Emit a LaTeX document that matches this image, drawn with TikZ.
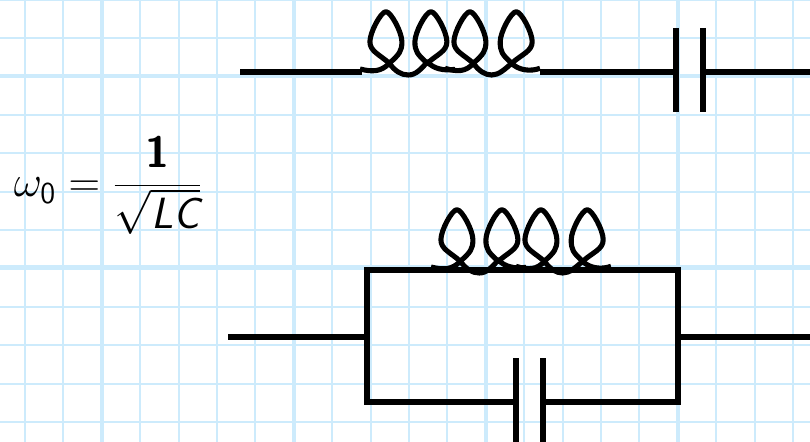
\documentclass[tikz,border=0pt]{standalone}
\definecolor{gridblue}{HTML}{CDEBFC}
\tikzset{
  wire/.style={line width=3.2pt,black},
  coilwire/.style={line width=2.9pt,black,line join=round},
  minorgrid/.style={line width=1.1pt,color=gridblue},
  majorgrid/.style={line width=2.6pt,color=gridblue},
  coil/.pic={
    \foreach \cx/\lean in {29.3/-3.4,67.3/3.6,113.3/-3.4,151.7/4.5}
      \draw[coilwire,shift={(\cx,-8.7)}] (0,0) .. controls (10,-9) and ({16+\lean},-12) .. ({16+\lean},-21.6)
        .. controls ({16+\lean},-31) and ({5+\lean},-51.6) .. (\lean,-51.6)
        .. controls ({\lean-5},-51.6) and ({\lean-16},-31) .. ({\lean-16},-21.6)
        .. controls ({\lean-16},-12) and (-10,-9) .. (0,0);
    \draw[coilwire] (0,-3) .. controls (12,0) and (21,0) .. (29.3,-8.7)
      .. controls (35,-1) and (41,3) .. (48.3,3) .. controls (56,3) and (61,-3) .. (67.3,-10)
      .. controls (74,-3) and (84,-1) .. (95,-2.7);
    \draw[coilwire] (85,-3.7) .. controls (97,0) and (106,0) .. (113.3,-8.7)
      .. controls (119,-1) and (125,3) .. (131.7,3) .. controls (139,3) and (145,-3) .. (151.7,-8.7)
      .. controls (158,-2) and (170,0) .. (180,-3.7);
  },
}
\begin{document}
\begin{tikzpicture}[x=0.02cm,y=-0.02cm]
\useasboundingbox (0,0) rectangle (810,442);
\clip (0,0) rectangle (810,442);
% grid
\fill[white] (0,0) rectangle (810,442);
\foreach \gx in {25,63.4,140.2,178.6,217,255.4,332.2,370.6,409,447.4,524.2,562.6,601,639.4,716.2,754.6,793}
  \draw[minorgrid] (\gx,0) -- (\gx,442);
\foreach \gy in {0,38,114.8,153.2,191.6,230,306.8,345.2,383.6,422}
  \draw[minorgrid] (0,\gy) -- (810,\gy);
\foreach \gx in {101.8,293.8,485.8,677.8}
  \draw[majorgrid] (\gx,0) -- (\gx,442);
\foreach \gy in {76,267.5}
  \draw[majorgrid] (0,\gy) -- (810,\gy);
% series circuit
\coordinate (seriesin) at (240,72);
\coordinate (seriescoilin) at (362,72);
\coordinate (seriescoilout) at (540,72);
\coordinate (seriescapa) at (676,72);
\coordinate (seriescapb) at (703,72);
\coordinate (seriesout) at (810,72);
\draw[wire] (seriesin) -- (seriescoilin);
\draw (360,72) pic {coil};
\draw[wire] (seriescoilout) -- (seriescapa);
\draw[wire] (seriescapb) -- (seriesout);
\draw[wire] (seriescapa |- 0,28) -- (seriescapa |- 0,112);
\draw[wire] (seriescapb |- 0,28) -- (seriescapb |- 0,112);
% formula
\node[inner sep=0pt,scale=1.2] (formula) at (108,185) {\huge $\omega_{\mathsf{0}}=\displaystyle\frac{\textsf{\bfseries 1}}{\sqrt{\textsf{\itshape LC}}}$};
% parallel circuit
\coordinate (parin) at (228,337);
\coordinate (parleft) at (367,337);
\coordinate (parright) at (678,337);
\coordinate (parout) at (810,337);
\coordinate (partopl) at (367,270);
\coordinate (partopr) at (678,270);
\coordinate (parbotl) at (367,402);
\coordinate (parbotr) at (678,402);
\coordinate (parcapa) at (516,402);
\coordinate (parcapb) at (543,402);
\draw[wire] (parin) -- (parleft);
\draw[wire] (parright) -- (parout);
\draw[wire] (parcapa) -- (parbotl) -- (partopl) -- (partopr) -- (parbotr) -- (parcapb);
\draw[wire] (parcapa |- 0,358) -- (parcapa |- 0,442);
\draw[wire] (parcapb |- 0,358) -- (parcapb |- 0,442);
\draw (431,270) pic {coil};
\end{tikzpicture}
\end{document}
